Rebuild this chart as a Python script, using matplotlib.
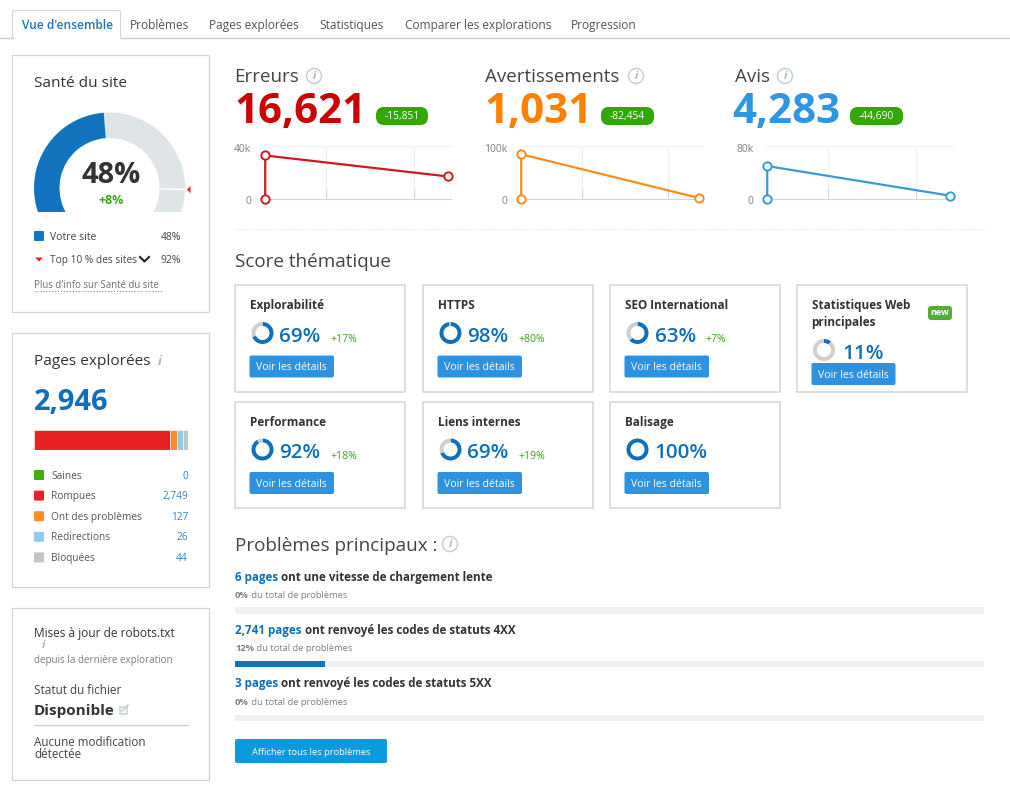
import matplotlib
matplotlib.use('Agg')
import matplotlib.pyplot as plt
from matplotlib.patches import Rectangle, FancyBboxPatch, Wedge, Circle, Polygon
from matplotlib.transforms import ScaledTranslation

plt.rcParams['font.family'] = ['Open Sans', 'DejaVu Sans']

#####################################################
# data --->

tab_labels = ["Vue d'ensemble", 'Problèmes', 'Pages explorées', 'Statistiques',
              'Comparer les explorations', 'Progression']

site_score = 48
top_score = 92

crawl_total = '2,946'
crawl_labels = ['Saines', 'Rompues', 'Ont des problèmes', 'Redirections', 'Bloquées']
crawl_values = ['0', '2,749', '127', '26', '44']
crawl_colors = ['#3cae0e', '#ea2027', '#ff8c2b', '#93c9f0', '#c4c4c4']
# bar lengths as drawn in the picture, small segments are wider than their share
crawl_bar = [0, 136, 7, 6, 5]

metric_names = ['Erreurs', 'Avertissements', 'Avis']
metric_totals = ['16,621', '1,031', '4,283']
metric_deltas = ['-15,851', '-82,454', '-44,690']
metric_colors = ['#cc0000', '#ff8000', '#2f96e3']
line_colors = ['#cc1a22', '#ff8c1a', '#3a9ad9']
line_days = [0, 0, 30]
errors_line = [0, 32472, 16621]
warnings_line = [0, 83485, 1031]
notices_line = [0, 48973, 4283]
metric_lines = [errors_line, warnings_line, notices_line]
metric_tops = [40000, 100000, 80000]
metric_top_labels = ['40k', '100k', '80k']
metric_grid = [[10, 24.5], [10.2, 24.7], [10, 24.5]]

theme_names = ['Explorabilité', 'HTTPS', 'SEO International',
               'Performance', 'Liens internes', 'Balisage']
theme_scores = [69, 98, 63, 92, 69, 100]
theme_deltas = ['+17%', '+80%', '+7%', '+18%', '+19%', '']
web_score = 11

issue_counts = ['6 pages', '2,741 pages', '3 pages']
issue_texts = [' ont une vitesse de chargement lente',
               ' ont renvoyé les codes de statuts 4XX',
               ' ont renvoyé les codes de statuts 5XX']
issue_shares = [0, 12, 0]

# <--- data
#####################################################

DARK = '#333333'
GREY = '#6f6f6f'
BLUE = '#0f6fba'
BTN = '#2d93e0'
GREEN = '#3aa61e'
BORDER = '#cfd6d9'

W, H = 1010, 788
fig = plt.figure(figsize=(W / 100, H / 100), dpi=100)
ax = fig.add_axes([0, 0, 1, 1])
ax.set_xlim(0, W)
ax.set_ylim(H, 0)
ax.axis('off')


def px_axes(x0, y0, x1, y1):
    # new axes from a pixel box, y counted from the top
    return fig.add_axes([x0 / W, 1 - y1 / H, (x1 - x0) / W, (y1 - y0) / H])


def txt(x, y, s, size, color=DARK, weight='normal', ha='left', **kw):
    # va center sits a bit high for this font, so push down with the size
    return ax.text(x, y + size * 0.11, s, fontsize=size * 0.72, color=color, weight=weight,
                   ha=ha, va='center', **kw)


def box(x0, y0, x1, y1, edge=BORDER, face='white', lw=0.9):
    ax.add_patch(Rectangle((x0, y0), x1 - x0, y1 - y0, fc=face, ec=edge, lw=lw))


def rounded(x0, y0, x1, y1, color, r=2, zorder=1):
    ax.add_patch(FancyBboxPatch((x0 + r, y0 + r), x1 - x0 - 2 * r, y1 - y0 - 2 * r,
                                boxstyle='round,pad=%f,rounding_size=%f' % (r, r),
                                fc=color, ec='none', zorder=zorder))


def info(x, y, r=7.5):
    ax.add_patch(Circle((x, y), r, fc='white', ec='#c5d0d5', lw=1.1))
    txt(x, y - 1, 'i', r * 1.5, color='#a9b7bd', ha='center', style='italic', weight='bold')


def ring(cx, cy, value, r=11):
    a = px_axes(cx - r, cy - r, cx + r, cy + r)
    a.pie([value, 100 - value], colors=[BLUE, '#cfcfcf'], startangle=90,
          counterclock=False, radius=1, wedgeprops=dict(width=0.36))
    a.set_xlim(-1, 1)
    a.set_ylim(-1, 1)


def button(x0, y0, x1, y1, label, color=BTN, size=10.5):
    rounded(x0, y0, x1, y1, color)
    txt((x0 + x1) / 2, (y0 + y1) / 2, label, size, color='white', ha='center')


#############################
# tabs --->
ax.plot([0, 12.5], [37.5, 37.5], color='#c9cfd2', lw=1)
ax.plot([120.5, W], [37.5, 37.5], color='#c9cfd2', lw=1)
tab_x = [22, 130, 209, 319, 405, 571]
rounded(12, 10, 121, 45, '#cfd4d6', r=2)
rounded(13, 11, 120, 45, 'white', r=2)
ax.add_patch(Rectangle((0, 38), W, 14, fc='white', ec='none'))
for i, (x, label) in enumerate(zip(tab_x, tab_labels)):
    txt(x, 24, label, 11.9, color='#1a76c2' if i == 0 else '#555555',
        weight='semibold' if i == 0 else 'normal')

#############################
# site health panel --->
box(12, 55, 209, 311.5)
txt(34, 82, 'Santé du site', 15.4)

gauge = px_axes(30, 108, 190, 212)
gauge.set_xlim(-79.5, 80.5)
gauge.set_ylim(-24, 80)
gauge.axis('off')
gauge_start = 198.5
gauge_span = 217
score_angle = gauge_start - gauge_span * site_score / 100
top_angle = gauge_start - gauge_span * top_score / 100
gauge.add_patch(Wedge((0, 0), 75.5, -60, score_angle, width=25.5, fc='#dfe4e6', ec='none'))
gauge.add_patch(Wedge((0, 0), 75.5, score_angle, 240, width=25.5, fc='#1273bf', ec='none'))
gauge.add_patch(Wedge((0, 0), 76.5, top_angle - 0.7, top_angle + 0.7, width=27, fc='white', ec='none'))
ax.add_patch(Polygon([[187, 189.5], [190.5, 186], [190.5, 193.5]], fc='#ea2027', ec='none'))
txt(111, 172, '%d%%' % site_score, 29, weight='bold', ha='center')
txt(111, 199.5, '+8%', 12.5, color=GREEN, weight='bold', ha='center')

rounded(34, 231, 44, 241, '#1273bf', r=1)
txt(50, 236, 'Votre site', 10.4, color='#444444')
txt(181, 236, '%d%%' % site_score, 10.4, color='#444444', ha='right')
ax.add_patch(Polygon([[35, 257.5], [43, 257.5], [39, 261.5]], fc='#ea2027', ec='none'))
txt(50, 259, 'Top 10 % des sites', 10.1, color='#444444')
ax.plot([140, 144.5, 149], [257, 261.5, 257], color='#222222', lw=1.5)
txt(181, 259, '%d%%' % top_score, 10.4, color='#444444', ha='right')
txt(34, 284.5, "Plus d'info sur Santé du site", 9.6, color=GREY)
ax.plot([34, 163], [291, 291], color='#888888', lw=0.8, ls=':')

#############################
# crawled pages panel --->
box(12, 333, 209, 586.5)
txt(34, 360, 'Pages explorées', 15.4)
txt(160, 360, 'i', 13, color='#a9b7bd', weight='bold', style='italic', ha='center')
txt(34, 399.5, crawl_total, 29, color=BLUE, weight='bold')

bar_ax = px_axes(34, 429.5, 188, 450)
left = 0
for width, color in zip(crawl_bar, crawl_colors):
    bar_ax.barh(0, width, left=left, height=1, color=color, edgecolor='white', linewidth=0.4)
    left += width
bar_ax.set_xlim(0, left)
bar_ax.set_ylim(-0.5, 0.5)
bar_ax.axis('off')

for i, (label, value, color) in enumerate(zip(crawl_labels, crawl_values, crawl_colors)):
    y = 475 + 20.6 * i
    rounded(34, y - 5, 44, y + 5, color, r=1)
    txt(51, y, label, 10.1, color='#555555')
    txt(188, y, value, 10.1, color='#2a84cc', ha='right')

#############################
# robots.txt panel --->
box(12, 608, 209, 779.5)
txt(34, 632, 'Mises à jour de robots.txt', 11.9)
txt(43, 644, 'i', 11, color='#a9b7bd', weight='bold', style='italic', ha='center')
txt(34, 659, 'depuis la dernière exploration', 9.9, color='#808080')
txt(34, 689, 'Statut du fichier', 11.8, color='#444444')
txt(34, 709.5, 'Disponible', 15.2, weight='bold')
ax.add_patch(Rectangle((119.5, 706.5), 7, 7, fc='none', ec='#c5d0d5', lw=1.1))
ax.plot([122, 128], [711, 705], color='#c5d0d5', lw=1.3)
ax.plot([34, 188], [724.5, 724.5], color='#cfd4d6', lw=1)
txt(34, 741, 'Aucune modification', 11.6, color='#444444')
txt(34, 753, 'détectée', 11.6, color='#444444')

#############################
# errors, warnings, notices --->
name_x = [234.5, 485, 735]
info_x = [314, 636, 785]
badge_x = [(376, 428), (601, 654), (850, 903)]
chart_x = [(264, 451), (520, 702), (766, 953)]
for i in range(3):
    txt(name_x[i], 75, metric_names[i], 18.8, color='#444444')
    info(info_x[i], 76)
    txt(name_x[i] - (3 if i == 2 else 0.5), 108, metric_totals[i], 42,
        color=metric_colors[i], weight='bold')
    rounded(badge_x[i][0], 107, badge_x[i][1], 125, '#30a800', r=8)
    txt(sum(badge_x[i]) / 2, 115.5, metric_deltas[i], 10.2, color='white', ha='center')

    c = px_axes(chart_x[i][0], 145.5, chart_x[i][1], 198.5)
    c.plot(line_days, metric_lines[i], color=line_colors[i], lw=1.6, marker='o', ms=6,
           mfc='white', mec=line_colors[i], mew=1.4, clip_on=False, zorder=5)
    c.set_xlim(-0.2, 30.5)
    c.set_ylim(0, metric_tops[i])
    c.set_xticks(metric_grid[i])
    c.set_xticklabels([])
    c.set_yticks([0, metric_tops[i]])
    c.set_yticklabels(['0', metric_top_labels[i]], fontsize=7.5, color='#808080')
    c.tick_params(axis='x', length=7, direction='in', color='#c9d8e4', width=0.8)
    c.tick_params(axis='y', length=0, pad=9)
    down = ScaledTranslation(0, -2 / 72 * 0.72, fig.dpi_scale_trans)
    for lab in c.get_yticklabels():
        lab.set_transform(lab.get_transform() + down)
    c.xaxis.grid(True, color='#eef1f3', lw=1)
    for side in ['left', 'right']:
        c.spines[side].set_visible(False)
    c.spines['top'].set_color('#f0f2f3')
    c.spines['bottom'].set_color('#c9d8e4')

ax.plot([235, 985], [228.5, 228.5], color='#dfe3e5', lw=0.8, ls=':')

#############################
# thematic scores --->
txt(235, 259.5, 'Score thématique', 18.9, color='#444444')

card_x = [235, 423, 610]
card_y = [285, 401.5]
card_w, card_h = 169.5, 106.5
for i in range(6):
    x = card_x[i % 3]
    y = card_y[i // 3]
    box(x, y, x + card_w, y + card_h, lw=1.1)
    txt(x + 15, y + 19.5, theme_names[i], 11.8, weight='bold')
    ring(x + 27.5, y + 48, theme_scores[i])
    txt(x + 44.5, y + 49.5, '%d%%' % theme_scores[i], 20.5, color=BLUE, weight='semibold')
    if theme_deltas[i]:
        txt(x + 95, y + 53.5, theme_deltas[i], 10.5, color=GREEN)
    button(x + 14.5, y + 70.5, x + 99, y + 92.5, 'Voir les détails')

box(797, 285, 966.5, 391.5, lw=1.1)
txt(811.5, 304, 'Statistiques Web', 11.8, weight='bold')
txt(811.5, 321.5, 'principales', 11.8, weight='bold')
rounded(928, 306, 952, 320, '#52ae32', r=3)
txt(940, 312, 'new', 9, color='white', weight='bold', ha='center')
ring(824, 350, web_score)
txt(842, 351.5, '%d%%' % web_score, 20.5, color=BLUE, weight='semibold')
button(811.5, 363, 895.5, 385, 'Voir les détails')

#############################
# main issues --->
txt(235, 543.5, 'Problèmes principaux :', 18.9, color='#444444')
info(450, 544)

renderer = fig.canvas.get_renderer()
title_y = [576.5, 629.5, 682.5]
sub_y = [594, 647, 701]
bar_y = [(607, 614), (661, 667), (715, 721)]
for i in range(3):
    t = txt(235, title_y[i], issue_counts[i], 11.6, color=BLUE, weight='bold')
    width = t.get_window_extent(renderer).width
    txt(235 + width, title_y[i], issue_texts[i], 11.6, weight='bold')
    t = txt(235, sub_y[i], '%d%%' % issue_shares[i], 9.4, color='#808080', weight='bold')
    width = t.get_window_extent(renderer).width
    txt(235 + width, sub_y[i], ' du total de problèmes', 9.4, color='#808080')

    p = px_axes(235, bar_y[i][0], 984, bar_y[i][1])
    p.barh(0, 100, height=1, color='#eef0f1')
    p.barh(0, issue_shares[i], height=1, color='#1273bf')
    p.set_xlim(0, 100)
    p.set_ylim(-0.5, 0.5)
    p.axis('off')

button(235, 739, 387, 763, 'Afficher tous les problèmes', color='#0a9ade', size=9.4)

fig.savefig('out.png', dpi=100)
